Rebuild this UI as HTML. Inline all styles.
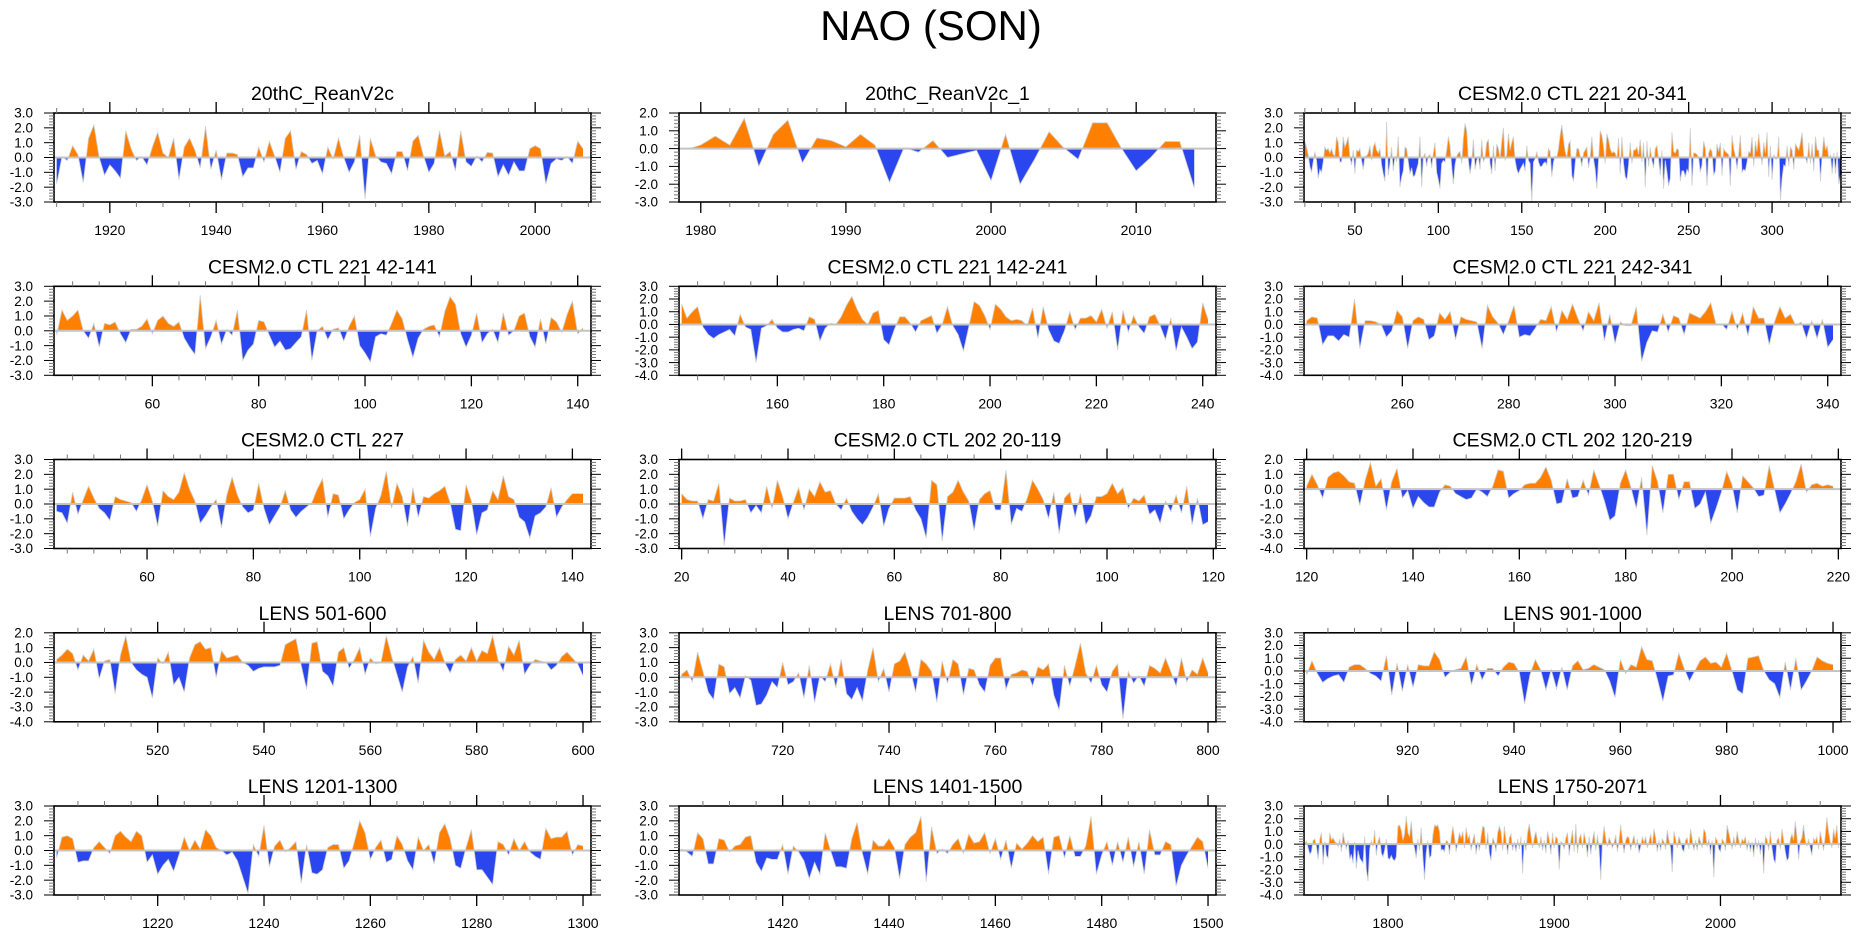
<!DOCTYPE html>
<html><head><meta charset="utf-8"><title>NAO (SON)</title>
<style>
html,body{margin:0;padding:0;background:#fff;}
svg{display:block;font-family:"Liberation Sans",sans-serif;}
</style></head>
<body>
<svg id="fig" width="1861" height="936" viewBox="0 0 1861 936" xmlns="http://www.w3.org/2000/svg">
<text x="931" y="40" font-size="42" text-anchor="middle" fill="#000">NAO (SON)</text>
</svg>
<script>
// ---- data ----
const reanV2c = [
-1.8,0.05,-0.2,0.8,0.2,-1.7,1.3,2.2,0.0,-1.2,
-0.5,-0.9,-1.4,1.8,0.6,-0.2,0.05,-0.5,0.7,1.7,
0.3,0.0,1.3,-1.5,0.7,1.3,0.5,-0.7,2.1,-0.8,
0.5,-1.5,0.3,0.3,0.2,-1.3,-0.7,-0.7,0.7,-0.3,
1.1,0.1,-1.0,1.3,1.8,-0.8,0.4,0.2,-0.4,-0.2,
-1.1,0.7,-0.1,1.3,0.0,-1.0,-0.3,1.5,-2.8,1.3,
0.1,-0.3,-0.4,-1.1,0.4,0.4,-0.9,1.1,1.5,0.1,
-1.0,-0.4,1.8,0.1,0.4,-0.9,1.8,-0.3,-0.6,0.1,
-0.3,0.35,0.3,-1.3,-0.5,-1.2,-0.3,-0.9,-0.9,0.6,
0.8,0.6,-1.8,-0.4,-0.1,-0.2,0.05,-0.4,1.1,0.6];
const reanV2c1 = [
-0.05,0.2,0.7,0.2,1.7,-1.0,0.8,1.6,-0.8,0.6,
0.45,0.1,0.8,0.2,-1.9,0.05,-0.2,0.45,-0.5,-0.3,
-0.1,-1.8,0.8,-2.0,-0.6,0.95,0.05,-0.6,1.45,1.45,
0.0,-1.25,-0.5,0.4,0.4,-2.2];
const ctl221y20to41 = [1.1,0.7,0.2,-0.6,-1.0,-0.3,0.4,-0.2,-1.4,-0.8,-1.0,-0.3,0.7,0.5,0.6,0.3,0.6,0.2,0.1,1.4,1.0,-0.3];
const ctl221y42to141 = [
-0.3,1.4,0.7,1.0,1.4,0.0,-0.5,0.5,-1.1,0.5,
0.4,0.6,-0.2,-0.8,0.1,0.1,0.3,0.8,-0.2,0.7,
1.0,0.5,0.3,0.6,-0.5,-1.1,-1.6,2.4,-1.2,-0.4,
0.7,-0.9,0.1,-0.3,1.4,-2.0,-1.3,-0.9,0.7,0.6,
-0.3,-1.1,-0.7,-1.3,-1.2,-0.8,-0.4,1.4,-2.0,0.0,
0.3,-0.6,0.1,0.2,-0.7,0.3,1.0,-1.0,-1.5,-2.1,
-0.4,-0.2,-0.3,0.5,1.4,0.8,-0.6,-1.8,-0.5,0.1,
0.3,0.4,-0.4,1.3,2.3,1.8,-0.2,-1.1,-0.3,1.2,
-0.8,-0.2,0.1,-0.8,1.2,-0.3,0.0,1.0,1.2,-0.4,
-1.1,0.8,-0.9,0.9,0.6,-0.1,1.1,2.0,-0.2,0.2];
const ctl221y142to241 = [
1.6,0.5,1.0,1.4,-0.2,-0.8,-1.1,-0.8,-0.6,-0.4,
-0.9,0.8,-0.2,-0.4,-3.0,-0.3,-0.1,0.4,-0.3,-0.6,
-0.6,-0.4,-0.3,-0.5,0.6,0.4,-1.3,-0.3,0.1,0.0,
0.6,1.5,2.2,1.2,0.4,0.0,0.9,1.1,-1.2,-1.6,
-0.4,0.6,0.6,0.1,-0.6,0.3,0.5,0.7,-0.7,0.0,
1.4,-0.1,-0.8,-2.1,-0.2,1.8,1.5,0.7,-0.4,1.6,
1.2,0.6,0.3,0.4,0.3,-0.1,1.3,-1.1,1.4,-0.4,
-1.3,-1.5,-0.5,1.0,-0.4,0.5,0.5,0.7,0.2,1.2,
-0.3,1.0,-2.0,1.1,-0.6,0.7,-0.2,-0.7,0.6,0.8,
-0.1,-1.2,0.5,-2.1,-0.2,-1.0,-1.9,-1.4,1.7,0.4];
const ctl221y242to341 = [
0.3,0.6,0.5,-1.6,-0.9,-0.9,-1.3,-0.8,-1.0,2.0,
-1.9,0.3,0.3,0.2,0.0,-1.0,-0.5,1.1,0.6,-1.9,
0.3,0.6,0.4,-1.2,-0.9,0.9,0.4,1.0,-1.2,0.6,
0.4,0.3,0.2,-1.9,1.5,0.6,0.1,-0.8,0.3,1.5,
-1.0,-0.8,-0.9,-0.3,0.4,0.3,1.4,-0.6,1.1,0.4,
1.6,0.5,-0.5,1.0,0.3,1.7,-1.3,0.8,-1.5,0.2,
-0.1,-0.1,1.4,-2.9,-1.4,-0.5,-0.6,0.8,-0.6,0.7,
0.5,-0.8,0.9,0.7,0.5,1.0,1.7,0.0,0.05,-0.4,
1.0,-0.4,0.9,-0.9,1.4,0.5,0.5,-1.6,0.2,1.4,
0.5,0.8,-0.1,0.2,-1.1,0.3,-1.1,0.4,-1.8,-1.2];
const ctl227 = [
-0.5,-0.6,-1.3,0.8,-0.7,0.3,1.2,0.4,-0.3,-0.6,
-1.1,0.5,0.3,0.2,0.1,-0.5,0.3,1.3,0.2,-1.5,
0.9,0.5,0.3,0.8,2.1,1.0,0.2,-1.3,-0.8,-0.2,
0.3,-1.6,0.6,1.8,0.6,-0.2,-0.6,-0.4,1.4,-0.3,
-1.4,-0.8,-0.2,0.9,-0.4,-0.9,-0.5,-0.2,0.1,1.0,
1.7,-0.9,0.7,0.6,-1.0,-0.4,0.1,0.3,1.0,-2.2,
-0.3,0.6,2.2,-0.3,1.4,0.5,-1.5,1.1,-0.9,0.5,
0.4,0.7,0.9,1.2,0.1,-1.7,-1.8,1.3,0.2,-2.1,
-0.6,-0.4,0.9,0.3,1.9,0.5,0.3,-0.9,-1.2,-2.3,
-0.8,-0.6,-0.2,1.1,-0.9,-0.2,0.3,0.7,0.7,0.7];
const ctl202y20to119 = [
0.7,0.3,0.2,0.2,-1.0,0.3,0.2,1.4,-2.8,0.4,
0.2,0.2,0.3,-0.6,-0.1,-0.6,1.2,-0.3,1.6,0.5,
-1.0,0.1,1.1,-0.4,1.0,0.5,1.5,0.8,0.9,0.0,
-0.4,0.4,-0.5,-1.0,-1.4,-0.9,-0.2,0.7,-1.5,-0.3,
0.4,0.4,0.4,0.5,-0.4,-1.0,-2.3,1.6,1.3,-2.5,
0.5,0.8,1.6,0.8,0.2,-1.8,0.3,0.7,0.9,-0.4,
-0.4,2.3,-1.4,-0.3,-0.5,0.4,1.6,1.0,0.3,-1.0,
0.8,-2.0,0.4,0.8,-0.9,0.7,-1.4,-0.8,0.5,0.5,
0.7,1.4,0.7,1.1,-0.3,0.4,0.2,0.6,-0.7,-0.4,
-1.3,0.2,-0.5,0.6,-0.6,1.2,-1.4,0.4,-1.4,-1.2];
const ctl202y120to219 = [
0.2,1.0,0.3,-0.6,0.8,1.1,1.2,0.9,0.5,0.4,
-1.1,0.6,1.8,0.2,0.7,-1.4,0.5,1.4,-0.6,-0.1,
-1.3,-0.5,-0.9,-1.2,-1.2,-0.2,0.3,0.2,-0.3,-0.5,
-0.7,-0.6,0.0,-0.2,-0.5,0.2,1.3,1.2,-0.6,-0.3,
-0.1,0.3,0.4,0.4,0.8,1.5,0.6,-1.0,-0.9,0.7,
-0.6,-0.5,0.6,-0.4,1.3,0.3,-0.8,-2.1,-1.8,0.4,
1.3,0.1,-1.3,0.8,-3.1,1.6,0.5,-1.6,1.0,1.0,
-0.7,0.5,0.5,-1.3,-1.0,-0.2,-2.3,-1.3,-0.2,1.2,
0.3,-1.6,0.9,0.5,0.1,-0.5,-0.4,1.6,0.0,-1.6,
-1.0,-0.3,0.5,1.7,-0.2,0.3,0.4,0.2,0.3,0.2];
const lens501to600 = [
0.2,0.5,0.9,0.6,-0.5,0.5,0.1,0.9,-1.1,0.1,
0.2,-2.1,0.5,1.8,0.0,-0.5,-0.8,-1.0,-2.4,0.3,
-0.1,0.7,-1.5,-1.0,-2.0,0.3,1.2,1.4,0.9,1.0,
-1.0,0.8,0.3,0.4,0.5,0.0,-0.2,-0.6,-0.4,-0.3,
-0.3,-0.3,-0.2,1.2,1.4,1.6,-0.2,-1.8,1.3,1.4,
-0.6,-0.9,-1.6,0.7,1.0,-0.4,0.2,1.0,-0.8,0.3,
-0.1,0.0,1.8,0.4,-0.8,-2.0,-0.3,0.4,-1.4,1.5,
0.7,0.2,1.0,0.0,-0.7,0.2,0.5,0.1,1.0,0.1,
0.8,0.6,1.8,0.2,-0.6,1.1,0.5,1.5,-0.8,-0.2,
0.2,0.1,0.0,-0.5,-0.2,0.4,0.7,0.3,-0.1,-0.9];
const lens701to800 = [
0.2,0.5,-0.3,1.7,0.4,-1.0,-1.5,0.9,0.7,-1.1,
-0.7,-1.4,0.1,-0.2,-1.9,-1.8,-1.2,-0.3,-0.7,1.0,
-0.5,-0.3,0.3,-1.4,0.8,-1.7,0.1,-0.3,0.9,-0.7,
1.2,-1.1,-1.5,-0.7,-1.6,0.5,2.0,-0.3,0.6,-1.0,
0.9,1.1,1.7,0.5,-1.0,1.2,0.9,0.4,-1.7,1.1,
-0.4,1.2,0.9,-1.2,0.6,0.5,-0.5,-1.0,0.8,1.3,
1.3,-0.8,0.2,0.3,0.5,0.4,-0.6,0.7,0.5,0.9,
-1.2,-2.2,0.8,-0.6,0.8,2.3,0.3,-0.4,0.8,-0.5,
-1.0,0.4,0.9,-2.8,0.4,-0.4,0.1,-0.6,0.8,0.6,
0.3,1.3,0.4,-0.6,1.3,-0.3,0.5,0.2,1.3,0.3];
const lens901to1000 = [
-0.3,0.8,-0.2,-0.9,-0.6,-0.4,-0.3,-0.9,0.3,0.5,
0.5,0.2,-0.2,-0.4,-0.8,1.2,-1.9,0.6,-1.6,0.5,
-1.3,0.5,0.4,0.4,1.5,0.9,-0.5,-0.1,0.1,0.2,
1.1,-1.1,0.5,-0.7,0.2,0.2,-0.4,0.3,0.7,0.6,
-0.1,-2.6,-0.3,0.9,0.1,-1.5,0.1,-1.4,0.3,-1.5,
0.4,0.8,0.1,0.2,0.5,0.3,0.1,-0.8,-2.1,0.9,
-0.2,0.5,0.3,1.9,0.9,0.8,-0.7,-2.4,-0.4,-0.3,
1.4,0.2,-0.8,0.0,0.8,1.1,0.6,0.7,0.3,1.4,
0.0,-1.5,-1.8,1.0,1.1,1.2,0.0,-0.7,-1.0,-2.1,
0.7,-1.5,1.0,-1.5,-0.8,0.0,1.1,0.8,0.6,0.5];
const lens1201to1300 = [
-0.5,0.9,1.0,0.8,-0.8,-0.7,-0.7,0.2,0.6,0.2,
-0.2,1.0,1.3,0.9,0.6,1.3,1.0,-0.8,-0.3,-1.6,
-1.0,-0.6,-1.4,-0.3,0.9,0.0,0.7,0.1,1.4,1.0,
0.2,0.0,-0.3,-0.1,-0.7,-1.8,-2.9,0.4,-0.4,1.7,
-1.1,0.3,0.7,-0.1,0.2,0.6,-2.2,0.4,-1.5,-1.6,
-1.3,0.2,0.4,0.4,-1.2,-0.7,0.6,2.0,1.2,-0.6,
0.2,0.7,-0.8,-0.6,1.0,0.4,-0.7,-1.3,0.9,0.0,
0.4,-0.9,1.2,1.8,0.8,-1.0,-1.2,0.2,1.4,-1.3,
-1.3,-1.8,-2.3,0.6,0.4,-0.3,0.8,0.0,0.6,-0.1,
-0.4,-0.6,1.5,0.8,0.9,0.9,1.3,-0.3,0.4,0.3];
const lens1401to1500 = [
0.1,-0.1,-0.4,1.2,0.8,-0.9,-0.9,0.8,0.7,-0.1,
0.3,0.4,0.9,1.0,-0.8,-1.4,-0.5,-0.6,-0.6,0.4,
-1.6,0.3,-0.1,-0.7,-1.9,-0.8,-1.6,1.2,0.0,-1.1,
-1.1,-1.2,0.8,1.9,-0.2,-1.6,0.7,0.3,0.3,0.8,
0.2,-1.9,0.4,0.9,1.2,2.3,-2.1,1.6,-0.2,0.1,
-0.2,0.4,0.8,-0.2,1.1,0.5,0.6,1.2,-0.2,0.8,
-0.6,0.7,-1.2,0.5,0.1,0.5,1.0,0.6,0.9,-1.6,
0.9,1.0,-0.5,1.0,-0.4,-0.4,0.3,2.3,-1.6,-0.3,
0.6,-1.0,0.6,-0.8,0.9,-1.1,0.6,-1.6,1.4,-0.3,
-0.3,0.6,0.4,-2.4,-1.0,-0.3,0.3,0.9,0.6,-1.2];
const lens1750to2071 = [
0.1,0.2,-0.3,-0.8,-0.6,0.3,0.4,-0.2,-1.2,0.4,0.9,-1.6,0.2,-0.9,-1.1,0.9,0.3,0.5,0.2,0.1,
-0.2,0.4,-0.6,0.9,0.2,-0.4,0.3,-1.2,-0.8,-1.5,0.2,-1.9,-0.5,-1.1,-1.3,-1.5,0.6,-2.0,-2.9,-0.4,
0.3,-0.2,1.1,-0.9,0.2,0.6,-0.7,-1.0,-0.5,0.4,-1.1,-1.2,-0.9,-1.2,-1.3,-1.0,1.4,1.5,1.1,0.3,
0.8,2.2,0.9,0.6,1.8,0.2,-0.3,-1.1,0.4,-0.5,1.3,-1.0,-2.8,-0.7,0.3,-1.1,-0.9,0.7,1.5,1.4,
1.5,1.0,-0.5,-0.4,-0.6,0.3,0.2,-0.8,0.5,1.4,0.6,-0.6,0.2,0.9,0.5,1.0,-0.3,1.3,0.4,0.7,
-0.5,0.3,0.8,-0.8,0.2,-0.5,0.6,1.4,1.3,-0.4,0.9,-0.7,-1.3,0.5,0.2,-0.6,0.9,1.4,1.0,-0.5,
1.4,0.3,-0.8,0.5,0.8,-0.5,0.2,-0.6,0.4,-0.4,0.6,-2.3,0.3,-0.5,0.9,1.6,0.7,-0.3,0.5,1.0,
0.2,-0.3,0.6,-0.5,0.3,-0.7,1.0,0.4,-0.8,0.9,-0.3,0.6,0.4,-2.0,0.2,0.1,-0.4,0.5,0.9,-0.9,
0.3,1.1,-0.6,1.6,-0.7,0.4,0.8,-0.3,0.9,0.2,-1.0,0.6,-0.8,0.3,1.0,-0.5,0.7,-0.4,-2.8,0.2,
1.4,0.4,-0.2,0.5,0.2,-0.3,0.1,0.7,-0.6,0.3,1.5,0.4,-0.7,0.3,0.6,0.5,-0.5,0.2,0.7,-0.3,
0.4,-0.7,-0.2,0.6,0.1,0.6,-0.3,0.2,0.8,-0.1,1.2,0.5,-0.6,0.3,-0.5,0.4,0.2,-0.4,1.1,0.3,
-0.3,-2.2,1.0,0.4,-0.3,0.6,0.2,-0.4,-0.6,0.3,0.5,-0.4,1.2,0.4,-0.5,0.3,-0.5,0.6,0.2,-0.3,
1.2,0.9,-0.2,0.4,-0.8,0.3,-2.6,0.5,0.3,-0.4,-0.6,0.4,0.2,-0.5,1.5,0.9,0.3,-0.4,0.6,-0.2,
1.0,0.3,-0.3,0.4,0.2,0.6,-0.5,0.3,-0.6,0.2,-1.0,0.5,-0.4,0.3,-0.8,0.2,-2.3,0.6,0.4,-0.5,
1.0,-0.3,-1.2,-1.5,0.3,0.5,-0.4,1.2,0.3,-0.6,-1.3,-1.1,0.4,0.8,0.3,1.8,0.6,-1.2,0.2,0.5,
1.5,0.3,-0.2,0.4,-0.3,-0.9,0.5,0.2,0.6,-0.4,1.0,0.3,-0.5,0.6,2.1,1.0,0.2,-0.3,1.2,0.5,
1.5,-0.3];
const ctl221y20to341 = [...ctl221y20to41, ...ctl221y42to141, ...ctl221y142to241, ...ctl221y242to341];

// tick labels
const ticksP1 = [1920,1940,1960,1980,2000];
const ticksP2 = [1980,1990,2000,2010];
const ticksP3 = [50,100,150,200,250,300];
const ticks60to140 = [60,80,100,120,140];
const ticks160to240 = [160,180,200,220,240];
const ticks260to340 = [260,280,300,320,340];
const ticks20to120 = [20,40,60,80,100,120];
const ticks120to220 = [120,140,160,180,200,220];
const ticks520to600 = [520,540,560,580,600];
const ticks720to800 = [720,740,760,780,800];
const ticks920to1000 = [920,940,960,980,1000];
const ticks1220to1300 = [1220,1240,1260,1280,1300];
const ticks1420to1500 = [1420,1440,1460,1480,1500];
const ticks1800to2000 = [1800,1900,2000];

// ---- layout / panel config ----
const COLS = [54, 679, 1304];
const ROWS = [113, 286.3, 459.5, 632.8, 806];
const PW = 537, PH = 89;
const ORANGE = '#ff8000', BLUE = '#2a46ee';

const panels = [
 {name:'20thc-reanv2c', title:'20thC_ReanV2c', data:reanV2c, start:1910, ymin:-3, ymax:3, ticks:ticksP1, minor:5, col:0, row:0},
 {name:'20thc-reanv2c-1', title:'20thC_ReanV2c_1', data:reanV2c1, start:1979, ymin:-3, ymax:2, ticks:ticksP2, minor:2, col:1, row:0},
 {name:'cesm-ctl221-20-341', title:'CESM2.0 CTL 221 20-341', data:ctl221y20to341, start:20, ymin:-3, ymax:3, ticks:ticksP3, minor:10, col:2, row:0, span:321.8},
 {name:'cesm-ctl221-42-141', title:'CESM2.0 CTL 221 42-141', data:ctl221y42to141, start:42, ymin:-3, ymax:3, ticks:ticks60to140, minor:5, col:0, row:1},
 {name:'cesm-ctl221-142-241', title:'CESM2.0 CTL 221 142-241', data:ctl221y142to241, start:142, ymin:-4, ymax:3, ticks:ticks160to240, minor:5, col:1, row:1},
 {name:'cesm-ctl221-242-341', title:'CESM2.0 CTL 221 242-341', data:ctl221y242to341, start:242, ymin:-4, ymax:3, ticks:ticks260to340, minor:5, col:2, row:1},
 {name:'cesm-ctl227', title:'CESM2.0 CTL 227', data:ctl227, start:43, ymin:-3, ymax:3, ticks:ticks60to140, minor:5, col:0, row:2},
 {name:'cesm-ctl202-20-119', title:'CESM2.0 CTL 202 20-119', data:ctl202y20to119, start:20, ymin:-3, ymax:3, ticks:ticks20to120, minor:5, col:1, row:2},
 {name:'cesm-ctl202-120-219', title:'CESM2.0 CTL 202 120-219', data:ctl202y120to219, start:120, ymin:-4, ymax:2, ticks:ticks120to220, minor:5, col:2, row:2},
 {name:'lens-501-600', title:'LENS 501-600', data:lens501to600, start:501, ymin:-4, ymax:2, ticks:ticks520to600, minor:5, col:0, row:3},
 {name:'lens-701-800', title:'LENS 701-800', data:lens701to800, start:701, ymin:-3, ymax:3, ticks:ticks720to800, minor:5, col:1, row:3},
 {name:'lens-901-1000', title:'LENS 901-1000', data:lens901to1000, start:901, ymin:-4, ymax:3, ticks:ticks920to1000, minor:5, col:2, row:3},
 {name:'lens-1201-1300', title:'LENS 1201-1300', data:lens1201to1300, start:1201, ymin:-3, ymax:3, ticks:ticks1220to1300, minor:5, col:0, row:4},
 {name:'lens-1401-1500', title:'LENS 1401-1500', data:lens1401to1500, start:1401, ymin:-3, ymax:3, ticks:ticks1420to1500, minor:5, col:1, row:4},
 {name:'lens-1750-2071', title:'LENS 1750-2071', data:lens1750to2071, start:1750, ymin:-4, ymax:3, ticks:ticks1800to2000, minor:20, col:2, row:4}
];

const NS = 'http://www.w3.org/2000/svg';
const svg = document.getElementById('fig');
function mk(tag, attrs, parent){
  const e = document.createElementNS(NS, tag);
  for (const k in attrs) e.setAttribute(k, attrs[k]);
  (parent || svg).appendChild(e);
  return e;
}
function line(g, x1, y1, x2, y2, color, w){
  return mk('line', {x1:x1, y1:y1, x2:x2, y2:y2, stroke:color, 'stroke-width':w}, g);
}

panels.forEach((p, idx) => {
  const L = COLS[p.col], T = ROWS[p.row], W = PW, H = PH;
  const n = p.data.length;
  const xmin = p.start - 0.5;
  const xmax = p.span ? xmin + p.span : p.start + n + 0.5;
  const sx = v => L + (v - xmin) / (xmax - xmin) * W;
  const sy = v => T + (p.ymax - v) / (p.ymax - p.ymin) * H;
  const y0 = sy(0);

  const g = mk('g', {});
  
  

  const title = mk('text', {x: L + W/2, y: T - 13, 'font-size': 19.5, 'text-anchor':'middle', fill:'#000'}, g);
  title.textContent = p.title;
  
  

  // clip paths
  const defs = mk('defs', {}, g);
  const cpA = mk('clipPath', {id:'ca' + idx}, defs);
  mk('rect', {x:L, y:T, width:W, height:y0 - T}, cpA);
  const cpB = mk('clipPath', {id:'cb' + idx}, defs);
  mk('rect', {x:L, y:y0, width:W, height:T + H - y0}, cpB);

  let d = 'M' + sx(p.start).toFixed(2) + ',' + y0.toFixed(2);
  let ld = '';
  p.data.forEach((v, i) => {
    const X = sx(p.start + i).toFixed(2), Y = sy(v).toFixed(2);
    d += 'L' + X + ',' + Y;
    ld += (i ? 'L' : 'M') + X + ',' + Y;
  });
  d += 'L' + sx(p.start + n - 1).toFixed(2) + ',' + y0.toFixed(2) + 'Z';

  const pos = mk('path', {d:d, fill:ORANGE, 'clip-path':'url(#ca' + idx + ')'}, g);
  
  
  const neg = mk('path', {d:d, fill:BLUE, 'clip-path':'url(#cb' + idx + ')'}, g);
  
  
  const cur = mk('path', {d:ld, fill:'none', stroke:'#cfcfcf', 'stroke-width':0.8}, g);
  
  

  const zl = line(g, L, y0, L + W, y0, '#c4c4c4', 2);
  
  

  const frame = mk('rect', {x:L, y:T, width:W, height:H, fill:'none', stroke:'#000', 'stroke-width':1.6}, g);
  
  

  // y ticks
  for (let k = Math.round(p.ymin * 5); k <= Math.round(p.ymax * 5); k++) {
    const v = k / 5, Y = sy(v);
    const major = (k % 5 === 0);
    const len = major ? 10 : 5;
    line(g, L - len, Y, L, Y, major ? '#000' : '#777', 1);
    line(g, L + W, Y, L + W + len, Y, major ? '#000' : '#777', 1);
    if (major) {
      const t = mk('text', {x: L - 21, y: Y + 4.7, 'font-size': 13.5, 'text-anchor':'end', fill:'#000'}, g);
      t.textContent = v.toFixed(1);
      
      
    }
  }
  // x minor ticks
  for (let v = Math.ceil(xmin / p.minor) * p.minor; v <= xmax; v += p.minor) {
    const X = sx(v);
    line(g, X, T - 5, X, T, '#777', 1);
    line(g, X, T + H, X, T + H + 5, '#777', 1);
  }
  // x major ticks + labels
  p.ticks.forEach(v => {
    const X = sx(v);
    line(g, X, T - 11, X, T, '#000', 1.3);
    line(g, X, T + H, X, T + H + 11, '#000', 1.3);
    const t = mk('text', {x: X, y: T + H + 33, 'font-size': 14, 'text-anchor':'middle', fill:'#000'}, g);
    t.textContent = String(v);
    
    
  });
});
</script>
</body></html>
